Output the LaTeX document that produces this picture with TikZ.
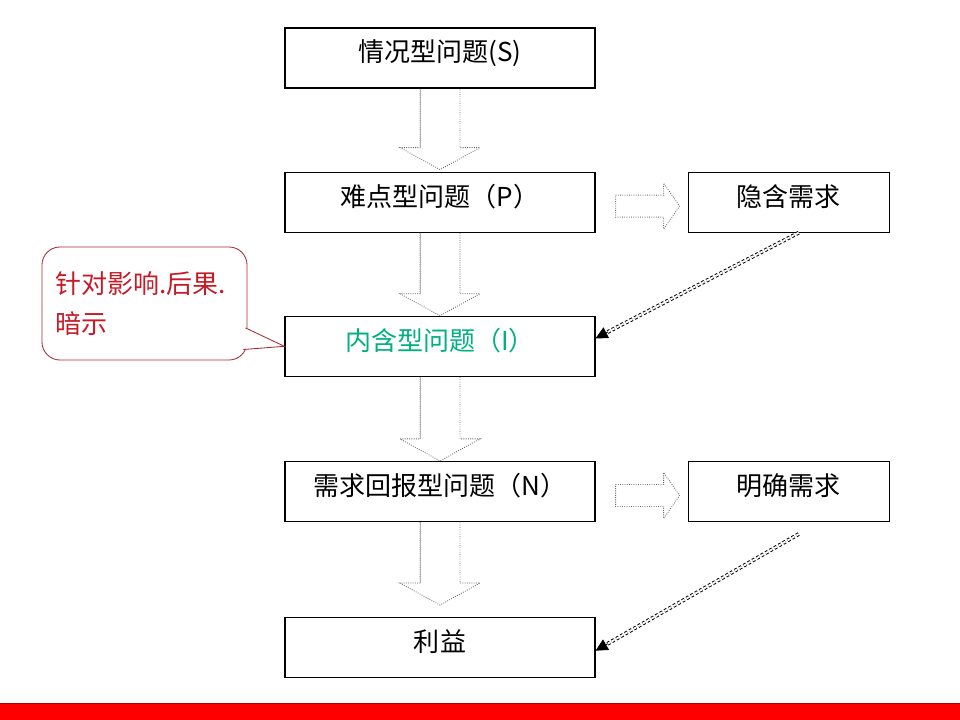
\documentclass[tikz,border=0pt]{standalone}
\usepackage{fontspec}
\setmainfont{Noto Sans CJK SC}
\usetikzlibrary{arrows.meta,positioning,calc}

\definecolor{implied}{RGB}{0,176,128}
\definecolor{notered}{RGB}{196,28,40}
\definecolor{noteline}{RGB}{170,40,50}

% hollow block arrows between the boxes
\newcommand\downblock[2]{%
  \draw[blockline] ($(#1.south)+(-20,0)$) -- ($(#2)+(-20,-22)$) -- ($(#2)+(-40,-22)$)
    -- (#2) -- ($(#2)+(40,-22)$) -- ($(#2)+(20,-22)$) -- ($(#1.south)+(20,0)$);
  \draw[shaftline] ($(#1.south)+(-20,0)$) -- ($(#2)+(-20,-22)$);}
\newcommand\rightblock[2]{%
  \draw[blockline] ($(#1.east)+(20,-7)$) -- ($(#2.west)+(-24,-7)$) -- ($(#2.west)+(-24,-19)$)
    -- ($(#2.west)+(-8,4)$) -- ($(#2.west)+(-24,27)$) -- ($(#2.west)+(-24,15)$)
    -- ($(#1.east)+(20,15)$) -- cycle;}

\begin{document}
\begin{tikzpicture}[x=0.025cm, y=-0.025cm,
        qbox/.style={rectangle, draw, line width=0.8pt, minimum width=7.75cm, minimum height=1.5cm, inner sep=0pt,
            text height=0.55cm, text depth=0.35cm, font=\fontsize{18.5}{22}\selectfont},
        needbox/.style={qbox, minimum width=5.025cm},
        notebox/.style={rectangle, draw=noteline, line width=0.6pt, rounded corners=0.45cm, minimum width=5.125cm, minimum height=2.825cm,
            text width=4.45cm, inner xsep=0.33cm, align=left, text=notered, font=\fontsize{18.5}{28.5}\selectfont},
        blockline/.style={draw=black!60, line width=0.6pt, densely dotted},
        shaftline/.style={draw=black!30, line width=0.7pt},
        needline/.style={draw, double, double distance=1.3pt, line width=0.7pt, dash pattern=on 2pt off 1.6pt, shorten >=0.25cm},
        needtip/.style={-{Triangle[length=0.3cm, width=0.3cm]}, line width=0.5pt}
    ]
    \useasboundingbox (0,0) rectangle (960,720);

    \node[qbox] (S) at (440,58) {情况型问题(S)};
    \node[qbox, below=2.075cm of S] (P) {难点型问题（P）};
    \node[qbox, below=2.075cm of P, text=implied] (I) {内含型问题（I）};
    \node[qbox, below=2.1cm of I] (N) {需求回报型问题（N）};
    \node[qbox, below=2.375cm of N] (B) {利益};
    \node[needbox, right=2.3cm of P] (hid) {隐含需求};
    \node[needbox, right=2.3cm of N] (exp) {明确需求};
    \node[notebox] (note) at (144.5,303.5) {针对影响.后果.\\暗示};

    \coordinate (tipP) at ([yshift=0.05cm]P.north);
    \coordinate (tipB) at ([yshift=0.3cm]B.north);
    \downblock{S}{tipP}
    \downblock{P}{I.north}
    \downblock{I}{N.north}
    \downblock{N}{tipB}
    \rightblock{P}{hid}
    \rightblock{N}{exp}

    % dotted links back from the needs
    \coordinate (hidS) at ([xshift=0.25cm]hid.south);
    \coordinate (expS) at ([xshift=0.25cm, yshift=-0.3cm]exp.south);
    \coordinate (inI) at ([yshift=0.2cm]I.east);
    \coordinate (inB) at ([yshift=-0.075cm]B.east);
    \draw[needline] (hidS) -- (inI);
    \draw[needtip] ($(inI)!0.35cm!(hidS)$) -- (inI);
    \draw[needline] (expS) -- (inB);
    \draw[needtip] ($(inB)!0.35cm!(expS)$) -- (inB);

    % callout pointer
    \coordinate (pa) at ([xshift=-0.05cm, yshift=-0.61cm]note.east);
    \coordinate (pb) at ([xshift=-0.1cm, yshift=-1.15cm]note.east);
    \fill[white] (pa) -- (I.west) -- (pb) -- cycle;
    \draw[noteline, line width=0.6pt] (pa) -- (I.west) -- (pb);

    \fill[red] (0,703) rectangle (960,720);
    \draw[red!70!black, line width=0.6pt] (0,703) -- (960,703);
\end{tikzpicture}
\end{document}
